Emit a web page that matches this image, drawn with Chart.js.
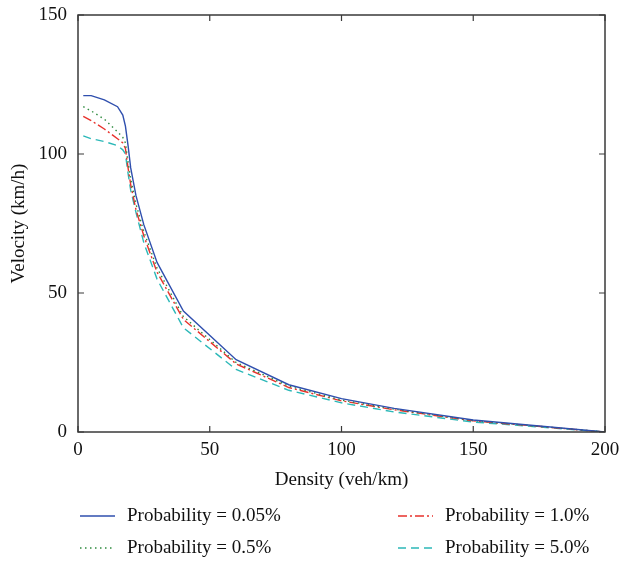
<!DOCTYPE html>
<html>
<head>
<meta charset="utf-8">
<script src="https://cdn.jsdelivr.net/npm/chart.js@4.4.1/dist/chart.umd.min.js"></script>
<style>
  html, body { margin: 0; padding: 0; background: #fff; }
  #wrap { width: 624px; height: 573px; }
</style>
</head>
<body>
<div id="wrap"><canvas id="chart" width="624" height="573"></canvas></div>
<script>
// densities (veh/km) where the curves were sampled
const density = [2, 5, 10, 15, 17, 18, 19, 20, 22, 25, 30, 40, 60, 80, 100, 120, 150, 200]

// velocity (km/h) for each slowdown probability
const p005 = [121, 121, 119.5, 117, 114, 110, 103, 95, 85, 74.5, 61, 43.5, 26, 17, 12, 8.5, 4.3, 0]
const p05 = [117, 115.5, 112.5, 108, 106, 104, 97, 91, 82, 72, 59, 41.5, 25, 16.5, 11.5, 8.2, 4.1, 0]
const p10 = [113.5, 112, 109, 105.5, 104, 102, 95, 89, 80, 70.5, 57.5, 40.5, 24.5, 16, 11.2, 8, 4, 0]
const p50 = [106.5, 105.5, 104.5, 103, 101.5, 100, 93, 87, 79, 68, 55, 37.5, 22.5, 15, 10.5, 7.2, 3.6, 0]

const xTicks = [0, 50, 100, 150, 200]
const yTicks = [0, 50, 100, 150]

const seriesLabels = ['Probability = 0.05%', 'Probability = 0.5%', 'Probability = 1.0%', 'Probability = 5.0%']
const seriesColors = ['#2f4fae', '#2e8b3e', '#e8322c', '#2cb8b8']
const seriesDash = [[], [1.5, 3.5], [9, 3, 2, 3], [8, 5]]

const FONT = "'Liberation Serif', 'DejaVu Serif', serif"
const AXIS = '#3a3a3a'
const TEXT = '#111'

const toPts = (ys) => density.map((d, i) => ({ x: d, y: ys[i] }))

// box frame, inward ticks and the legend under the plot
const framePlugin = {
  id: 'frame',
  afterDraw(chart) {
    const { ctx, chartArea: a, scales } = chart
    ctx.save()
    ctx.strokeStyle = AXIS
    ctx.lineWidth = 1.5
    ctx.strokeRect(a.left, a.top, a.right - a.left, a.bottom - a.top)
    ctx.lineWidth = 1.2
    xTicks.forEach((v) => {
      const px = scales.x.getPixelForValue(v)
      ctx.beginPath()
      ctx.moveTo(px, a.bottom); ctx.lineTo(px, a.bottom - 6)
      ctx.moveTo(px, a.top); ctx.lineTo(px, a.top + 6)
      ctx.stroke()
    })
    yTicks.forEach((v) => {
      const py = scales.y.getPixelForValue(v)
      ctx.beginPath()
      ctx.moveTo(a.left, py); ctx.lineTo(a.left + 6, py)
      ctx.moveTo(a.right, py); ctx.lineTo(a.right - 6, py)
      ctx.stroke()
    })

    // legend: two columns, two rows
    const cols = [80, 398]
    const rows = [516, 548]
    ctx.font = '19px ' + FONT
    ctx.textBaseline = 'middle'
    ctx.fillStyle = TEXT
    const order = [[0, 0, 0], [1, 0, 1], [2, 1, 0], [3, 1, 1]]
    order.forEach(([i, c, r]) => {
      const x = cols[c], y = rows[r]
      ctx.strokeStyle = seriesColors[i]
      ctx.lineWidth = 1.3
      ctx.setLineDash(seriesDash[i])
      ctx.beginPath()
      ctx.moveTo(x, y); ctx.lineTo(x + 35, y)
      ctx.stroke()
      ctx.setLineDash([])
      ctx.fillText(seriesLabels[i], x + 47, y)
    })
    ctx.restore()
  }
}

new Chart(document.getElementById('chart'), {
  type: 'line',
  data: {
    datasets: [p005, p05, p10, p50].map((ys, i) => ({
      label: seriesLabels[i],
      data: toPts(ys),
      borderColor: seriesColors[i],
      borderWidth: 1.4,
      borderDash: seriesDash[i],
      pointRadius: 0,
      tension: 0,
      fill: false,
    })),
  },
  options: {
    responsive: false,
    animation: false,
    layout: { padding: { top: 15, right: 19, bottom: 80, left: 0 } },
    plugins: { legend: { display: false }, tooltip: { enabled: false } },
    scales: {
      x: {
        type: 'linear',
        min: 0,
        max: 200,
        afterBuildTicks: (s) => { s.ticks = xTicks.map((v) => ({ value: v })) },
        afterFit: (s) => { s.height = 61; s.paddingLeft = 0; s.paddingRight = 0 },
        grid: { display: false, drawTicks: false },
        border: { display: false },
        ticks: { color: TEXT, font: { family: FONT, size: 19 }, padding: 7, maxRotation: 0 },
        title: { display: true, text: 'Density (veh/km)', color: TEXT, font: { family: FONT, size: 19 }, padding: { top: 6, bottom: 2 } },
      },
      y: {
        type: 'linear',
        min: 0,
        max: 150,
        afterBuildTicks: (s) => { s.ticks = yTicks.map((v) => ({ value: v })) },
        afterFit: (s) => { s.width = 78; s.paddingTop = 0; s.paddingBottom = 0 },
        grid: { display: false, drawTicks: false },
        border: { display: false },
        ticks: { color: TEXT, font: { family: FONT, size: 19 }, padding: 11 },
        title: { display: true, text: 'Velocity (km/h)', color: TEXT, font: { family: FONT, size: 19 }, padding: { top: 8, bottom: 0 } },
      },
    },
  },
  plugins: [framePlugin],
})
</script>
</body>
</html>
